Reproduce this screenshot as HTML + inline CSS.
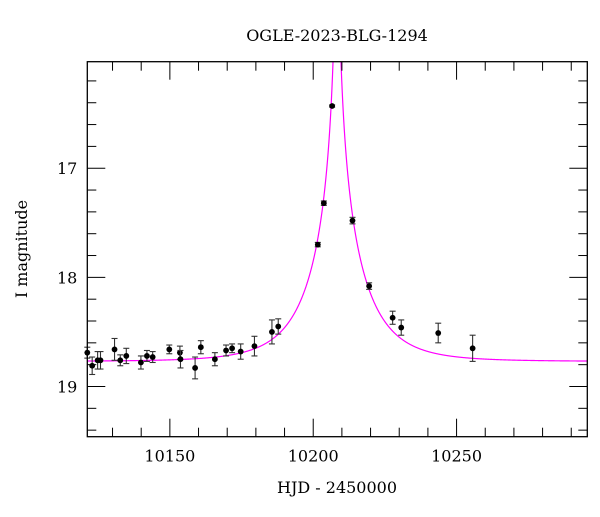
<!DOCTYPE html>
<html><head><meta charset="utf-8"><style>
html,body{margin:0;padding:0;background:#fff}
svg text{font-family:"DejaVu Serif","Liberation Serif",serif;fill:#000}
</style></head><body>
<svg id="chart" width="600" height="512" viewBox="0 0 600 512" xmlns="http://www.w3.org/2000/svg">
<text x="337" y="41" font-size="16" text-anchor="middle">OGLE-2023-BLG-1294</text>
<text x="337" y="493" font-size="16" text-anchor="middle">HJD - 2450000</text>
<text transform="translate(27,249) rotate(-90)" font-size="16" text-anchor="middle">I magnitude</text>
<g id="plot"></g>
</svg>
<script>
const obsTime=[10121.2,10122.9,10124.8,10125.8,10130.7,10132.7,10134.8,10139.9,10142.0,10144.0,10149.8,10153.5,10153.7,10158.8,10160.8,10165.7,10169.6,10171.7,10174.7,10179.5,10185.6,10187.8,10201.6,10203.7,10206.6,10213.7,10219.5,10227.7,10230.7,10243.6,10255.6];
const obsMag=[18.69,18.81,18.76,18.76,18.66,18.76,18.72,18.78,18.72,18.73,18.66,18.69,18.75,18.83,18.64,18.75,18.67,18.65,18.68,18.63,18.50,18.45,17.70,17.32,16.43,17.48,18.08,18.37,18.46,18.51,18.65];
const obsErr=[0.05,0.08,0.08,0.08,0.10,0.05,0.07,0.06,0.05,0.05,0.04,0.06,0.08,0.10,0.06,0.06,0.05,0.04,0.07,0.09,0.11,0.07,0.02,0.02,0.01,0.03,0.03,0.06,0.07,0.09,0.12];
const modelParams={t0:10208.3,tE:18,u0:0.02,base:18.77};
const xTicks=[10150,10200,10250];
const yTicks=[17,18,19];

const L=87.3,R=587.3,T=61.7,B=436.7;
const xMin=10121.2,xMax=10295.6,yMin=16.024,yMax=19.46;
const sx=v=>L+(v-xMin)/(xMax-xMin)*(R-L);
const sy=v=>T+(v-yMin)/(yMax-yMin)*(B-T);
const NS="http://www.w3.org/2000/svg";
const g=document.getElementById('plot');
function mk(tag,attrs,parent){const e=document.createElementNS(NS,tag);for(const k in attrs)e.setAttribute(k,attrs[k]);(parent||g).appendChild(e);return e;}

const defs=mk('defs',{});
const cp=mk('clipPath',{id:'clip'},defs);
mk('rect',{x:L,y:T,width:R-L,height:B-T},cp);

function mag(t){const p=modelParams;const tau=(t-p.t0)/p.tE;const u=Math.sqrt(p.u0*p.u0+tau*tau);const A=(u*u+2)/(u*Math.sqrt(u*u+4));return p.base-2.5*Math.log10(A);}
let d='';
for(let i=0;i<=3000;i++){const t=xMin+(xMax-xMin)*i/3000;d+=(i?'L':'M')+sx(t).toFixed(2)+','+sy(mag(t)).toFixed(2);}
const curve=mk('path',{d:d,fill:'none',stroke:'#ff00ff','stroke-width':1.2,'clip-path':'url(#clip)'});



obsTime.forEach((t,i)=>{
  const x=sx(t),y=sy(obsMag[i]),y1=sy(obsMag[i]-obsErr[i]),y2=sy(obsMag[i]+obsErr[i]);
  const pg=mk('g',{});
  
  
  mk('line',{x1:x,x2:x,y1:y1,y2:y2,stroke:'#333','stroke-width':1.1},pg);
  mk('line',{x1:x-3,x2:x+3,y1:y1,y2:y1,stroke:'#333','stroke-width':1.1},pg);
  mk('line',{x1:x-3,x2:x+3,y1:y2,y2:y2,stroke:'#333','stroke-width':1.1},pg);
  mk('circle',{cx:x,cy:y,r:2.9,fill:'#000'},pg);
});

const fr=mk('rect',{x:L,y:T,width:R-L,height:B-T,fill:'none',stroke:'#000','stroke-width':1.3});



for(let v=10130;v<=xMax;v+=10){
  const x=sx(v);const major=v%50===0;const len=major?18:9;
  mk('line',{x1:x,x2:x,y1:B,y2:B-len,stroke:'#000','stroke-width':1});
  mk('line',{x1:x,x2:x,y1:T,y2:T+len,stroke:'#000','stroke-width':1});
}
xTicks.forEach(v=>{
  const tx=mk('text',{x:sx(v),y:B+25,'font-size':16,'text-anchor':'middle'});
  tx.textContent=v;
  
  
});
for(let k=81;k<=97;k++){
  const v=k/5;if(v<yMin||v>yMax)continue;
  const y=sy(v);const major=k%5===0;const len=major?18:9;
  mk('line',{x1:L,x2:L+len,y1:y,y2:y,stroke:'#000','stroke-width':1});
  mk('line',{x1:R,x2:R-len,y1:y,y2:y,stroke:'#000','stroke-width':1});
}
yTicks.forEach(v=>{
  const tx=mk('text',{x:L-10,y:sy(v)+6,'font-size':16,'text-anchor':'end'});
  tx.textContent=v;
  
  
});
</script>
</body></html>
